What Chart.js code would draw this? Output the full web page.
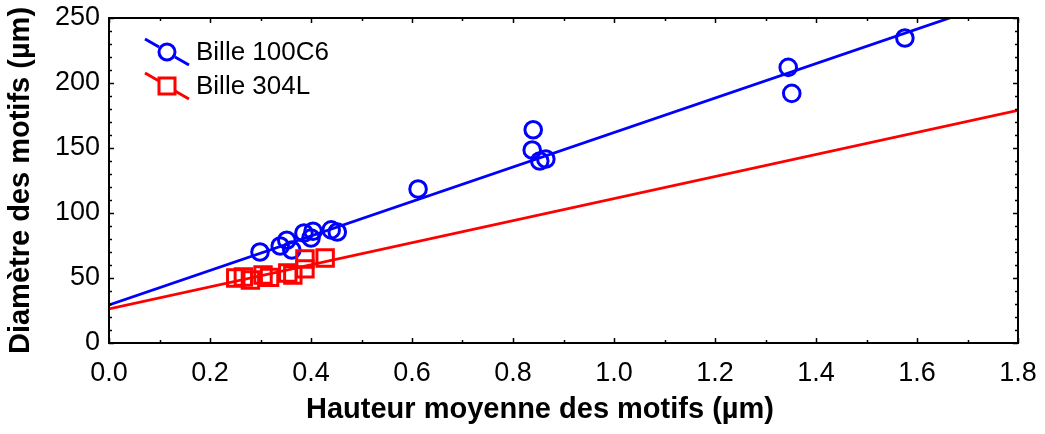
<!DOCTYPE html>
<html>
<head>
<meta charset="utf-8">
<script src="https://cdn.jsdelivr.net/npm/chart.js@4"></script>
<style>
  html, body { margin: 0; padding: 0; background: #fff; }
  #wrap { width: 1045px; height: 434px; }
</style>
</head>
<body>
<div id="wrap"><canvas id="chart"></canvas></div>
<script>
// Bille 100C6 points (height µm, diameter µm)
const ballAX = [0.299, 0.339, 0.352, 0.362, 0.386, 0.404, 0.400, 0.440, 0.452, 0.612, 0.840, 0.838, 0.853, 0.865, 1.345, 1.352, 1.576];
const ballAY = [70, 74.6, 79, 71.5, 84.6, 86, 80.8, 87, 85.4, 118.5, 164, 148.5, 140, 141.5, 212, 192, 234.6];

// Bille 304L points
const ballBX = [0.251, 0.266, 0.280, 0.305, 0.318, 0.354, 0.364, 0.388, 0.388, 0.428];
const ballBY = [50, 50.8, 48.5, 52.3, 50.5, 53.8, 52.3, 64.6, 57, 65.4];

// fitted lines, endpoints
const fitX = [0, 1.8];
const fitAY = [29.2, 268];
const fitBY = [26.2, 179];

const xTicks = [0.0, 0.2, 0.4, 0.6, 0.8, 1.0, 1.2, 1.4, 1.6, 1.8];
const yTicks = [0, 50, 100, 150, 200, 250];

const seriesNames = ['Bille 100C6', 'Bille 304L'];
const xTitle = 'Hauteur moyenne des motifs (µm)';
const yTitle = 'Diamètre des motifs (µm)';
const BLUE = '#0000ff';
const RED = '#ff0000';
const FONT = 'Arial, "Liberation Sans", sans-serif';

const toPts = (xs, ys) => xs.map((x, i) => ({ x: x, y: ys[i] }));

// frame + inward major/minor ticks on all four sides, x title and the legend
const framePlugin = {
  id: 'frame',
  afterDraw(chart) {
    const { ctx, chartArea: a, scales } = chart;
    const xs = scales.x, ys = scales.y;
    ctx.save();
    ctx.strokeStyle = '#000';
    ctx.lineWidth = 1.5;
    ctx.beginPath();
    for (let v = 0; v <= 1.8001; v += 0.1) {
      const major = Math.round(v * 10) % 2 === 0;
      const len = major ? 5 : 3;
      const px = Math.round(xs.getPixelForValue(v)) + 0.5;
      ctx.moveTo(px, a.bottom); ctx.lineTo(px, a.bottom - len);
      ctx.moveTo(px, a.top); ctx.lineTo(px, a.top + len);
    }
    for (let v = 0; v <= 250; v += 10) {
      const major = v % 50 === 0;
      const len = major ? 5 : 3;
      const py = Math.round(ys.getPixelForValue(v)) + 0.5;
      ctx.moveTo(a.left, py); ctx.lineTo(a.left + len, py);
      ctx.moveTo(a.right, py); ctx.lineTo(a.right - len, py);
    }
    ctx.stroke();
    ctx.lineWidth = 2;
    ctx.strokeRect(a.left, a.top, a.right - a.left, a.bottom - a.top);

    // x axis title (sits a bit left of the plot centre in the original)
    ctx.fillStyle = '#000';
    ctx.font = 'bold 29px ' + FONT;
    ctx.textAlign = 'center';
    ctx.textBaseline = 'middle';
    ctx.fillText(xTitle, 540, 410);

    // legend
    const items = [
      { name: seriesNames[0], color: BLUE, shape: 'circle', cy: 52 },
      { name: seriesNames[1], color: RED, shape: 'square', cy: 86 }
    ];
    items.forEach(it => {
      const cx = 167;
      ctx.strokeStyle = it.color;
      ctx.lineWidth = 3;
      ctx.beginPath();
      ctx.moveTo(cx - 22, it.cy - 13);
      ctx.lineTo(cx - 8, it.cy - 5);
      ctx.moveTo(cx + 8, it.cy + 5);
      ctx.lineTo(cx + 22, it.cy + 13);
      ctx.stroke();
      ctx.beginPath();
      if (it.shape === 'circle') {
        ctx.arc(cx, it.cy, 8, 0, Math.PI * 2);
      } else {
        ctx.rect(cx - 8, it.cy - 8, 16, 16);
      }
      ctx.stroke();
      ctx.fillStyle = '#000';
      ctx.font = '26px ' + FONT;
      ctx.textBaseline = 'middle';
      ctx.textAlign = 'left';
      ctx.fillText(it.name, 196, it.cy + 1);
    });
    ctx.restore();
  }
};

new Chart(document.getElementById('chart'), {
  type: 'scatter',
  data: {
    datasets: [
      {
        label: seriesNames[0] + ' fit',
        type: 'line',
        data: toPts(fitX, fitAY),
        borderColor: BLUE,
        borderWidth: 2.8,
        pointRadius: 0,
        fill: false
      },
      {
        label: seriesNames[1] + ' fit',
        type: 'line',
        data: toPts(fitX, fitBY),
        borderColor: RED,
        borderWidth: 2.8,
        pointRadius: 0,
        fill: false
      },
      {
        label: seriesNames[1],
        data: toPts(ballBX, ballBY),
        pointStyle: 'rect',
        pointRadius: 11.6,
        borderColor: RED,
        backgroundColor: 'rgba(0,0,0,0)',
        borderWidth: 3
      },
      {
        label: seriesNames[0],
        data: toPts(ballAX, ballAY),
        pointStyle: 'circle',
        pointRadius: 8.3,
        borderColor: BLUE,
        backgroundColor: 'rgba(0,0,0,0)',
        borderWidth: 3
      }
    ]
  },
  options: {
    responsive: true,
    maintainAspectRatio: false,
    animation: false,
    layout: { padding: { top: 18, right: 27, left: 0, bottom: 0 } },
    plugins: {
      legend: { display: false },
      tooltip: { enabled: false }
    },
    scales: {
      x: {
        type: 'linear',
        min: 0,
        max: 1.8,
        grid: { display: false, drawTicks: false },
        border: { display: false },
        afterBuildTicks: s => { s.ticks = xTicks.map(v => ({ value: v })); },
        afterFit: s => { s.height = 91; s.paddingLeft = 0; s.paddingRight = 0; },
        ticks: {
          color: '#000',
          padding: 14,
          font: { family: FONT, size: 27 },
          callback: v => v.toFixed(1)
        },
        title: { display: false }
      },
      y: {
        type: 'linear',
        min: 0,
        max: 250,
        grid: { display: false, drawTicks: false },
        border: { display: false },
        afterBuildTicks: s => { s.ticks = yTicks.map(v => ({ value: v })); },
        afterFit: s => { s.width = 109; s.paddingTop = 0; s.paddingBottom = 0; },
        ticks: {
          color: '#000',
          padding: 9,
          font: { family: FONT, size: 27 }
        },
        title: {
          display: true,
          text: yTitle,
          color: '#000',
          font: { family: FONT, size: 29, weight: 'bold' },
          padding: { top: 4, bottom: 4 }
        }
      }
    }
  },
  plugins: [framePlugin]
});
</script>
</body>
</html>
